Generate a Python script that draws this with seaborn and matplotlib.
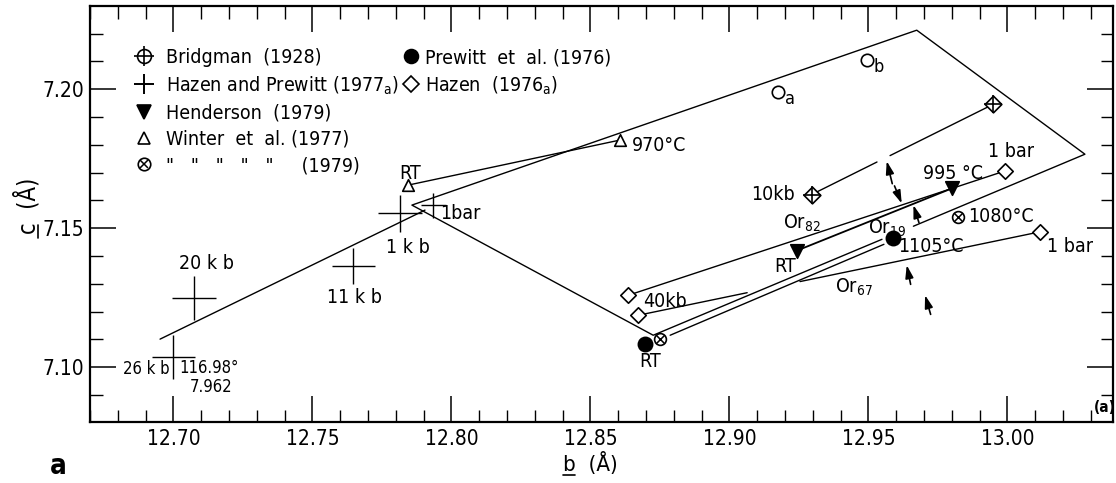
import numpy as np
import matplotlib
matplotlib.use("Agg")
import matplotlib.pyplot as plt
import seaborn as sns
from matplotlib import font_manager
from matplotlib.lines import Line2D
from matplotlib.legend_handler import HandlerTuple
from matplotlib.ticker import MultipleLocator, FormatStrFormatter

# ---------------- data (b, c in Angstrom) ----------------
# Hazen & Prewitt (1977a): high-pressure points with error crosses
hp_b = [12.7000, 12.7074, 12.7647, 12.7815, 12.7935]
hp_c = [7.1037, 7.1249, 7.1363, 7.1553, 7.1583]
hp_berr = [0.0078, 0.0078, 0.0078, 0.0078, 0.0045]
hp_cerr = [0.0078, 0.0078, 0.0065, 0.0068, 0.0045]
hp_trend_b = [12.6952, 12.7905]
hp_trend_c = [7.1101, 7.1565]

# Bridgman (1928)
br_b = [12.9296, 12.9950]
br_c = [7.1621, 7.1946]
br_gap_b = [12.9531, 12.9578]
br_gap_c = [7.1738, 7.1761]

# Henderson (1979)
hd_b = [12.9242, 12.9800]
hd_c = [7.1419, 7.1643]

# Winter et al. (1977)
wi_b = [12.7845, 12.8607]
wi_c = [7.1655, 7.1817]

# Winter et al. (1979)
w9_b = [12.8751, 12.9824]
w9_c = [7.1100, 7.1541]

# Prewitt et al. (1976)
pr_b = [12.8697, 12.9590]
pr_c = [7.1083, 7.1463]
pr_line_b = [12.8787, 12.9556]
pr_line_c = [7.1115, 7.1442]

# Hazen (1976a)
hz_b = [12.8637, 12.8673, 12.9992, 13.0118]
hz_c = [7.1259, 7.1187, 7.1706, 7.1487]
or67_gap_b = [12.9064, 12.9254]
or67_gap_c = [7.1268, 7.1308]

# open circles a, b
oc_b = [12.9175, 12.9494]
oc_c = [7.1989, 7.2104]
oc_sub = ['a', 'b']

# outline (open where the Or19 label sits)
poly_b = [12.9549, 12.8726, 12.7858, 12.9674, 13.0279, 12.9662]
poly_c = [7.1460, 7.1115, 7.1583, 7.2212, 7.1766, 7.1507]

# arrows tail -> head
arr_tail_b = [12.9586, 12.9594, 12.9682, 12.9652, 12.9724]
arr_tail_c = [7.1660, 7.1652, 7.1520, 7.1298, 7.1190]
arr_head_b = [12.9566, 12.9620, 12.9662, 12.9638, 12.9704]
arr_head_c = [7.1741, 7.1589, 7.1583, 7.1367, 7.1259]

# annotations: text, b, c, ha, size
ann_text = ['RT', '970°C', '1bar', '1 k b', '11 k b', '20 k b', '26 k b', '116.98°', '7.962',
            'RT', '40kb', 'RT', 'Or$_{82}$', 'Or$_{19}$', '1105°C', 'Or$_{67}$', '1080°C',
            '1 bar', '1 bar', '995 °C', '10kb']
ann_b = [12.7851, 12.8649, 12.7959, 12.7844, 12.7650, 12.7118, 12.6988, 12.7022, 12.7060,
         12.8715, 12.8690, 12.9200, 12.9193, 12.9499, 12.9607, 12.9380, 12.9858,
         13.0143, 12.9930, 12.9697, 12.9236]
ann_c = [7.1698, 7.1799, 7.1554, 7.1432, 7.1252, 7.1374, 7.0994, 7.0996, 7.0928,
         7.1019, 7.1235, 7.1361, 7.1518, 7.1500, 7.1433, 7.1288, 7.1541,
         7.1433, 7.1774, 7.1698, 7.1622]
ann_ha = ['center', 'left', 'left', 'center', 'center', 'center', 'right', 'left', 'left',
          'center', 'left', 'center', 'left', 'left', 'left', 'left', 'left',
          'left', 'left', 'left', 'right']
ann_size = [14, 14, 14, 14, 14, 14, 12, 12, 12,
            14, 14, 14, 14, 14, 14, 14, 14,
            14, 14, 14, 14]

x_ticks = [12.70, 12.75, 12.80, 12.85, 12.90, 12.95, 13.00]
y_ticks = [7.10, 7.15, 7.20]

# ---------------- style ----------------
sns.set_theme(style="ticks")
names = {f.name for f in font_manager.fontManager.ttflist}
if "Liberation Sans Narrow" in names:
    FAM = ["Liberation Sans Narrow", "DejaVu Sans"]
    STR = "normal"
    MRM = "Liberation Sans Narrow"
else:
    FAM = ["DejaVu Sans"]
    STR = "condensed"
    MRM = "DejaVu Sans:stretch=condensed"
plt.rcParams["font.family"] = FAM
plt.rcParams["font.stretch"] = STR
plt.rcParams["mathtext.fontset"] = "custom"
plt.rcParams["mathtext.rm"] = MRM
plt.rcParams["mathtext.default"] = "rm"
plt.rcParams.update({"text.color": "black", "axes.labelcolor": "black",
                     "xtick.color": "black", "ytick.color": "black",
                     "axes.edgecolor": "black"})

K = "black"
fig = plt.figure(figsize=(11.16, 4.83), dpi=100)
W, H = 1116, 483
ax = fig.add_axes([90 / W, 1 - 422 / H, 1023 / W, 416 / H])
ax.set_facecolor("white")

# ---------------- lines ----------------
LW = 1.0
ax.plot(hp_trend_b, hp_trend_c, color=K, lw=LW, zorder=2)
ax.plot(poly_b, poly_c, color=K, lw=LW, zorder=2)
ax.plot(wi_b, wi_c, color=K, lw=LW, zorder=2)
ax.plot([br_b[0], br_gap_b[0]], [br_c[0], br_gap_c[0]], color=K, lw=LW, zorder=2)
ax.plot([br_gap_b[1], br_b[1]], [br_gap_c[1], br_c[1]], color=K, lw=LW, zorder=2)
ax.plot(hd_b, hd_c, color=K, lw=1.3, zorder=2)
ax.plot([hz_b[0], hz_b[2]], [hz_c[0], hz_c[2]], color=K, lw=LW, zorder=2)
ax.plot([hz_b[1], or67_gap_b[0]], [hz_c[1], or67_gap_c[0]], color=K, lw=LW, zorder=2)
ax.plot([or67_gap_b[1], hz_b[3]], [or67_gap_c[1], hz_c[3]], color=K, lw=LW, zorder=2)
ax.plot(pr_line_b, pr_line_c, color=K, lw=LW, zorder=2)

ax.errorbar(hp_b, hp_c, xerr=hp_berr, yerr=hp_cerr, fmt="none", ecolor=K,
            elinewidth=1.0, capsize=0, zorder=3)

# ---------------- markers (seaborn) ----------------
def pts(b, c, marker, s, fc, lw=1.2, z=5):
    sns.scatterplot(x=b, y=c, marker=marker, s=s, color=fc, edgecolor=K,
                    linewidth=lw, ax=ax, zorder=z, legend=False)

pts(br_b, br_c, "D", 72, "white")
sns.scatterplot(x=br_b, y=br_c, marker="+", s=150, color=K, linewidth=1.2, ax=ax, zorder=6, legend=False)
pts(hd_b, hd_c, "v", 95, K)
pts(wi_b, wi_c, "^", 70, "white")
pts(w9_b, w9_c, "o", 72, "white")
sns.scatterplot(x=w9_b, y=w9_c, marker="x", s=34, color=K, linewidth=1.1, ax=ax, zorder=6, legend=False)
pts(pr_b, pr_c, "o", 105, K)
pts(hz_b, hz_c, "D", 62, "white")
pts(oc_b, oc_c, "o", 80, "white")

for t, b, c in zip(oc_sub, oc_b, oc_c):
    ax.annotate(t, (b, c), xytext=(5, -5), textcoords="offset points", fontsize=13,
                ha="left", va="center")

# ---------------- arrows ----------------
for tb, tc, hb, hc in zip(arr_tail_b, arr_tail_c, arr_head_b, arr_head_c):
    ax.annotate("", xy=(hb, hc), xytext=(tb, tc),
                arrowprops=dict(arrowstyle="-|>,head_length=0.7,head_width=0.22", color=K,
                                lw=1.2, shrinkA=0, shrinkB=0, mutation_scale=11), zorder=4)

# ---------------- text ----------------
for t, b, c, ha, fs in zip(ann_text, ann_b, ann_c, ann_ha, ann_size):
    ax.text(b, c, t, ha=ha, va="center", fontsize=fs, zorder=7)

ax.text(13.0352, 7.0856, "(a)", ha="center", va="center", fontsize=11, fontweight="bold")

# ---------------- axes ----------------
ax.set_xlim(12.670, 13.038)
ax.set_ylim(7.0803, 7.2299)
ax.set_xticks(x_ticks)
ax.set_yticks(y_ticks)
ax.xaxis.set_minor_locator(MultipleLocator(0.01))
ax.yaxis.set_minor_locator(MultipleLocator(0.01))
ax.xaxis.set_major_formatter(FormatStrFormatter("%.2f"))
ax.yaxis.set_major_formatter(FormatStrFormatter("%.2f"))
ax.tick_params(which="both", direction="in", top=True, right=True, colors=K)
ax.tick_params(which="major", length=19, width=1.1, labelsize=15)
ax.tick_params(axis="x", which="major", pad=5)
ax.tick_params(axis="y", which="major", pad=4)
ax.tick_params(which="minor", length=9, width=1.0)
for sp in ax.spines.values():
    sp.set_visible(True)
    sp.set_color(K)
    sp.set_linewidth(1.6)
ax.set_xlabel("")
ax.set_ylabel("")

# ---------------- legend ----------------
def mk(marker, ms, fc, mew=1.2):
    return Line2D([], [], ls="none", marker=marker, ms=ms, mfc=fc, mec=K, mew=mew, color=K)

h1 = [(mk("o", 10, "white"), mk("+", 15, K)),
      mk("+", 14, K, 1.4),
      mk("v", 10, K),
      mk("^", 9, "white"),
      (mk("o", 9, "white"), mk("x", 6, K, 1.1))]
l1 = ["Bridgman  (1928)", "Hazen and Prewitt (1977$_{a}$)", "Henderson  (1979)",
      "Winter  et  al. (1977)", '"   "   "   "   "     (1979)']
h2 = [mk("o", 10, K), mk("D", 8, "white")]
l2 = ["Prewitt  et  al. (1976)", "Hazen  (1976$_{a}$)"]

common = dict(loc="upper left", frameon=False, fontsize=14, handlelength=1.0,
              borderpad=0, borderaxespad=0, labelspacing=0.37,
              handler_map={tuple: HandlerTuple(ndivide=1, pad=0)})
leg1 = ax.legend(h1, l1, bbox_to_anchor=(0.0436, 0.899), handletextpad=0.6, **common)
ax.add_artist(leg1)
leg2 = ax.legend(h2, l2, bbox_to_anchor=(0.3043, 0.899), handletextpad=0.2, **common)

# ---------------- axis titles ----------------
fig.text(590 / W, 1 - 463 / H, "b  (Å)", ha="center", va="center", fontsize=16)
fig.add_artist(Line2D([563 / W, 575 / W], [1 - 475 / H] * 2, color=K, lw=1.2,
                      transform=fig.transFigure))
fig.text(27 / W, 1 - 206 / H, "c  (Å)", ha="center", va="center", fontsize=17, rotation=90)
fig.add_artist(Line2D([38 / W] * 2, [1 - 238 / H, 1 - 225 / H], color=K, lw=1.2,
                      transform=fig.transFigure))
fig.text(58 / W, 1 - 466 / H, "a", ha="center", va="center", fontsize=20, fontweight="bold",
         family=["DejaVu Sans"])

fig.savefig("out.png", dpi=100, facecolor="white")
